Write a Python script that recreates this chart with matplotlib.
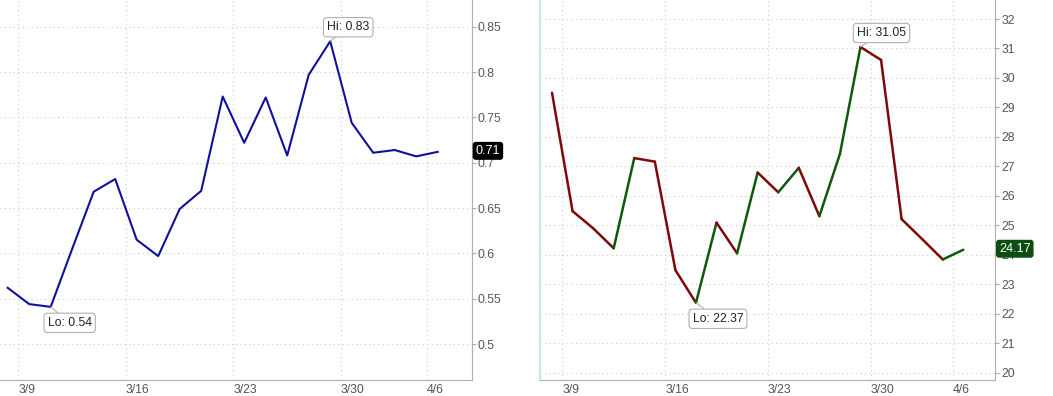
import matplotlib.pyplot as plt

plt.rcParams["font.family"] = ["Liberation Sans", "DejaVu Sans"]

# trading days shown on both panels
dates = ["3/6", "3/9", "3/10", "3/11", "3/12", "3/13", "3/16", "3/17", "3/18",
         "3/19", "3/20", "3/23", "3/24", "3/25", "3/26", "3/27", "3/30", "3/31",
         "4/1", "4/2", "4/6"]
tick_dates = ["3/9", "3/16", "3/23", "3/30", "4/6"]

left_values = [0.562, 0.544, 0.541, 0.605, 0.668, 0.682, 0.615, 0.597, 0.649,
               0.669, 0.773, 0.722, 0.772, 0.708, 0.797, 0.834, 0.744, 0.711,
               0.714, 0.707, 0.712]
right_values = [29.50, 25.48, 24.90, 24.22, 27.28, 27.16, 23.48, 22.37, 25.09,
                24.05, 26.79, 26.12, 26.95, 25.31, 27.42, 31.05, 30.61, 25.21,
                24.53, 23.84, 24.17]

left_yticks = [0.5, 0.55, 0.6, 0.65, 0.7, 0.75, 0.8, 0.85]
left_ylabels = ["0.5", "0.55", "0.6", "0.65", "0.7", "0.75", "0.8", "0.85"]
right_yticks = list(range(20, 33))

W, H = 1053, 396
fig = plt.figure(figsize=(W / 100, H / 100), dpi=100)
fig.patch.set_facecolor("white")

grid_kw = dict(color="#cccccc", linewidth=0.8, linestyle=(0, (1, 3)))
label_color = "#555555"
FS = 8.8


def style_axes(ax, yticks, ylabels, xlim, ylim):
    x = list(range(len(dates)))
    ax.set_xlim(*xlim)
    ax.set_ylim(*ylim)
    ax.set_xticks([dates.index(d) - 0.5 for d in tick_dates])
    ax.set_xticklabels(tick_dates, ha="left", color=label_color, fontsize=FS)
    ax.set_yticks(yticks)
    ax.set_yticklabels(ylabels, color=label_color, fontsize=FS)
    ax.yaxis.tick_right()
    ax.tick_params(axis="y", length=3, color="#aaaaaa", pad=1.5)
    ax.tick_params(axis="x", length=0, pad=3)
    ax.grid(True, **grid_kw)
    ax.set_axisbelow(True)
    ax.spines["top"].set_visible(False)
    for s in ("right", "bottom"):
        ax.spines[s].set_color("#b0b0b0")
        ax.spines[s].set_linewidth(0.8)
    return x


def hilo(ax, x, y, text, off):
    ax.annotate(text, xy=(x, y), xytext=off, textcoords="offset pixels",
                ha="center", va="center", fontsize=FS, color="#222222",
                bbox=dict(boxstyle="round,pad=0.3", fc="white", ec="#b0b0b0", lw=0.8),
                arrowprops=dict(arrowstyle="-", color="#b0b0b0", lw=0.8,
                                shrinkA=0, shrinkB=0))


def last_tag(ax, y, text, fc):
    ax.annotate(text, xy=(1, y), xycoords=("axes fraction", "data"),
                xytext=(4, 1), textcoords="offset pixels", ha="left", va="center",
                fontsize=FS + 0.3, color="white",
                bbox=dict(boxstyle="round,pad=0.18", fc=fc, ec=fc))


# left panel
ax1 = fig.add_axes([0, 16 / H, 471.7 / W, 380 / H])
x = style_axes(ax1, left_yticks, left_ylabels, (-0.358, 21.58), (0.4603, 0.8795))
ax1.spines["left"].set_visible(False)
ax1.plot(x, left_values, color="#10109c", linewidth=1.5)
lo = left_values.index(min(left_values))
hi = left_values.index(max(left_values))
hilo(ax1, lo, left_values[lo], f"Lo: {left_values[lo]:.2f}", (19, -16))
hilo(ax1, hi, left_values[hi], f"Hi: {left_values[hi]:.2f}", (18, 14))
last_tag(ax1, left_values[-1], f"{left_values[-1]:.2f}", "black")

# right panel
ax2 = fig.add_axes([540 / W, 16 / H, 455 / W, 380 / H])
x = style_axes(ax2, right_yticks, [str(v) for v in right_yticks],
               (-0.583, 21.54), (19.75, 32.645))
ax2.spines["left"].set_color("#cfe0ee")
ax2.spines["left"].set_linewidth(1.5)
for i in range(len(right_values) - 1):
    up = right_values[i + 1] >= right_values[i]
    ax2.plot(x[i:i + 2], right_values[i:i + 2],
             color="#0d5a0d" if up else "#7c0a0a", linewidth=1.8,
             solid_capstyle="round")
lo = right_values.index(min(right_values))
hi = right_values.index(max(right_values))
hilo(ax2, lo, right_values[lo], f"Lo: {right_values[lo]:.2f}", (22, -16))
hilo(ax2, hi, right_values[hi], f"Hi: {right_values[hi]:.2f}", (21, 14))
last_tag(ax2, right_values[-1], f"{right_values[-1]:.2f}", "#0d4d12")

fig.savefig("out.png", dpi=100, facecolor="white")
